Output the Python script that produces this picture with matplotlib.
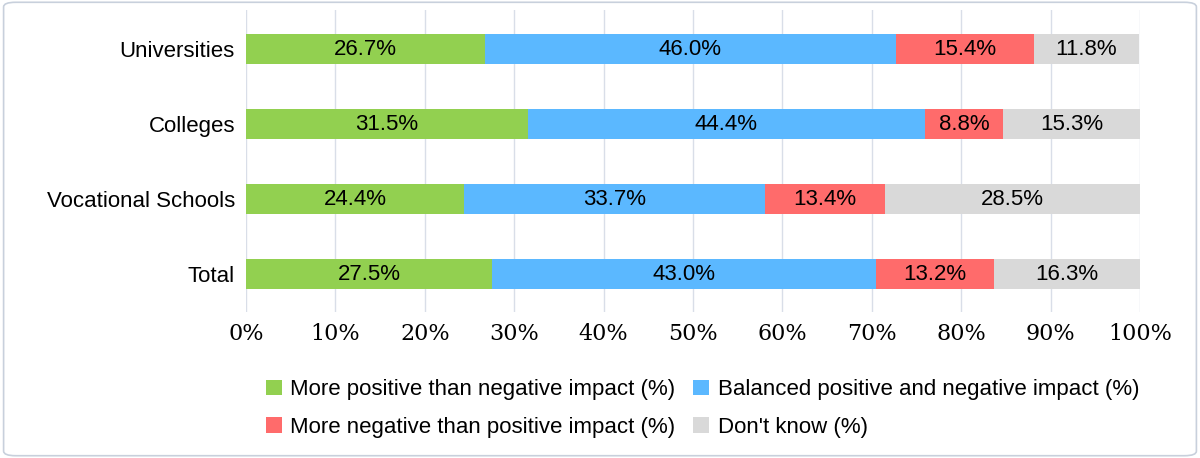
import matplotlib
matplotlib.use('Agg')
import matplotlib.pyplot as plt
from matplotlib.patches import FancyBboxPatch

categories = ['Universities', 'Colleges', 'Vocational Schools', 'Total']
positive = [26.7, 31.5, 24.4, 27.5]
balanced = [46.0, 44.4, 33.7, 43.0]
negative = [15.4, 8.8, 13.4, 13.2]
dont_know = [11.8, 15.3, 28.5, 16.3]
series_names = ['More positive than negative impact (%)',
                'Balanced positive and negative impact (%)',
                'More negative than positive impact (%)',
                "Don't know (%)"]
colors = ['#92D050', '#5BB8FF', '#FF6B6B', '#D9D9D9']

fig = plt.figure(figsize=(12, 4.58), dpi=100)
fig.patches.append(FancyBboxPatch((0.003, 0.005), 0.994, 0.99, boxstyle='round,pad=0,rounding_size=0.01',
                                  transform=fig.transFigure, fill=False, edgecolor='#C8D0DC', linewidth=1.2))
ax = fig.add_axes([0.205, 0.319, 0.745, 0.659])

ys = list(range(len(categories)))
left = [0.0] * len(categories)
handles = []
for vals, name, c in zip([positive, balanced, negative, dont_know], series_names, colors):
    bars = ax.barh(ys, vals, left=left, height=0.4, color=c, label=name, zorder=3)
    handles.append(bars)
    for b, v in zip(bars, vals):
        ax.text(b.get_x() + b.get_width() / 2, b.get_y() + b.get_height() / 2, f'{v:.1f}%',
                ha='center', va='center', fontsize=16, family='Liberation Sans', zorder=4)
    left = [l + v for l, v in zip(left, vals)]

ax.set_xlim(0, 100)
ax.set_ylim(3.5, -0.52)
ax.set_yticks(ys)
ax.set_yticklabels(categories, fontsize=16, family='Liberation Sans')
ax.set_xticks(range(0, 101, 10))
ax.set_xticklabels([f'{t}%' for t in range(0, 101, 10)], fontsize=16, family='DejaVu Serif')
ax.tick_params(length=0, pad=8)
ax.grid(axis='x', color='#D9DEE8', linewidth=1, zorder=0)
for s in ax.spines.values():
    s.set_visible(False)

order = [0, 2, 1, 3]
fig.legend([handles[i] for i in order], [series_names[i] for i in order],
           loc='lower left', bbox_to_anchor=(0.205, 0.0), ncol=2, frameon=False,
           prop={'family': 'Liberation Sans', 'size': 16}, handlelength=0.7, handleheight=0.7,
           columnspacing=0.8, handletextpad=0.4, labelspacing=0.75)
fig.savefig('out.png', dpi=100)
